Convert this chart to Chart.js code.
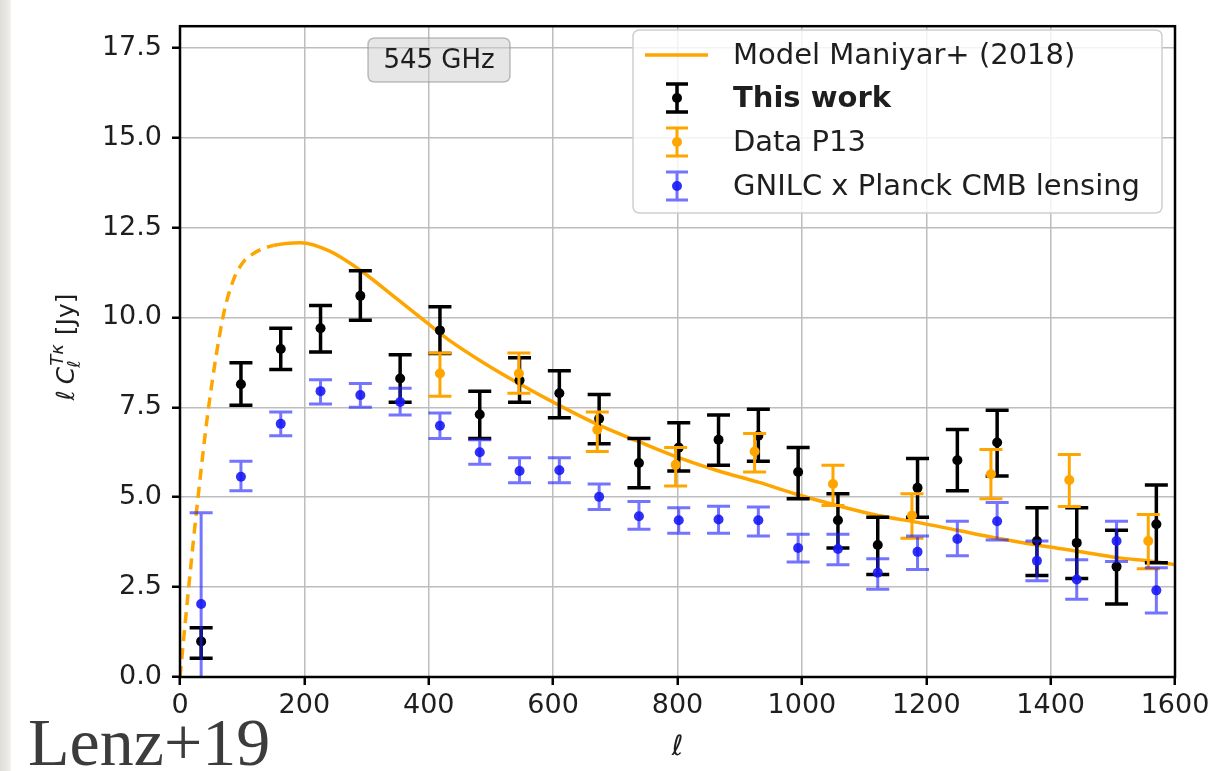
<!DOCTYPE html>
<html><head><meta charset="utf-8">
<script src="https://cdn.jsdelivr.net/npm/chart.js@4/dist/chart.umd.min.js"></script>
<style>
html,body{margin:0;padding:0;background:#fff;width:1226px;height:771px;overflow:hidden;}
#strip{position:absolute;left:0;top:0;width:11px;height:771px;background:linear-gradient(90deg,#e0ded9,#ebe9e5 70%,#f5f4f1);}
#wrap{position:absolute;left:0;top:0;width:1226px;height:771px;}
#tag{position:absolute;left:28px;top:706px;font-family:'Liberation Serif','DejaVu Serif',serif;font-size:68px;line-height:72px;color:#3c3c3c;white-space:nowrap;}
</style></head>
<body>
<div id="strip"></div>
<div id="wrap"><canvas id="c" width="1226" height="771"></canvas></div>
<div id="tag">Lenz+19</div>
<script>
// ---- data ----
const ellBins = [34,98,162,226,290,354,418,482,546,610,674,738,802,866,930,994,1058,1122,1186,1250,1314,1378,1442,1506,1570];

const thisWork   = [0.99,8.14,9.12,9.70,10.6,8.30,9.64,7.30,8.25,7.89,7.18,5.95,6.38,6.60,6.71,5.70,4.36,3.67,5.26,6.03,6.52,3.78,3.73,3.07,4.25];
const thisWorkLo = [0.52,7.56,8.55,9.04,9.92,7.64,9.00,6.63,7.64,7.21,6.49,5.26,5.73,5.89,6.00,4.96,3.59,2.85,4.44,5.18,5.59,2.82,2.74,2.03,3.18];
const thisWorkHi = [1.37,8.74,9.70,10.33,11.3,8.96,10.3,7.95,8.88,8.52,7.86,6.63,7.07,7.29,7.45,6.38,5.10,4.44,6.08,6.88,7.42,4.71,4.71,4.08,5.34];

const gnilc   = [2.03,5.57,7.04,7.95,7.84,7.65,6.99,6.25,5.73,5.75,5.01,4.47,4.36,4.38,4.36,3.59,3.56,2.90,3.48,3.84,4.33,3.23,2.71,3.78,2.41];
const gnilcLo = [-0.5,5.18,6.71,7.59,7.50,7.29,6.63,5.92,5.40,5.40,4.66,4.11,4.00,4.00,3.92,3.20,3.12,2.44,2.99,3.37,3.81,2.68,2.16,3.21,1.78];
const gnilcHi = [4.57,6.00,7.37,8.27,8.16,8.03,7.34,6.60,6.10,6.10,5.37,4.88,4.71,4.75,4.73,3.97,3.97,3.29,3.92,4.33,4.85,3.78,3.26,4.33,3.04];

const p13Ell = [418,545,671,797,924,1050,1177,1304,1430,1557];
const p13    = [8.44,8.44,6.88,5.90,6.27,5.37,4.49,5.64,5.48,3.78];
const p13Lo  = [7.81,7.89,6.27,5.31,5.70,4.77,3.86,4.96,4.74,3.01];
const p13Hi  = [9.01,9.01,7.37,6.38,6.77,5.89,5.10,6.33,6.19,4.52];

const modelEll = [0,14,29,46,69,85,100,120,150,194,240,291,350,398,435,488,545,609,673,737,802,866,930,994,1057,1123,1186,1250,1314,1378,1443,1507,1571,1600];
const modelVal = [0,2.5,5.0,7.5,10.0,11.0,11.5,11.8,12.0,12.08,11.85,11.3,10.5,9.84,9.34,8.74,8.16,7.56,7.01,6.55,6.10,5.73,5.42,5.07,4.77,4.49,4.30,4.08,3.86,3.67,3.50,3.32,3.20,3.12];
const modelDashedBelow = 150;

const xTicks = [0,200,400,600,800,1000,1200,1400,1600];
const yTicks = [0,2.5,5,7.5,10,12.5,15,17.5];

const seriesNames = ['Model Maniyar+ (2018)','This work','Data P13','GNILC x Planck CMB lensing'];
const bandLabel = '545 GHz';

// ---- colours ----
const ORANGE = '#ffa500';
const BLUE_BAR = 'rgba(30,30,255,0.62)';
const BLUE_DOT = 'rgba(25,25,245,0.9)';
const TXT = '#1e1e1e';
const FONT = "'DejaVu Sans', sans-serif";

const pts = (xs, ys) => xs.map((v, i) => ({x: v, y: ys[i]}));

const errorBars = {
  id: 'errorBars',
  beforeDatasetDraw(chart, args) {
    const ds = chart.data.datasets[args.index];
    if (!ds.errLo) return;
    const {ctx, chartArea: a, scales: {x, y}} = chart;
    ctx.save();
    ctx.beginPath(); ctx.rect(a.left, a.top, a.right - a.left, a.bottom - a.top); ctx.clip();
    ctx.strokeStyle = ds.errColor; ctx.lineWidth = ds.errWidth; ctx.lineCap = 'butt';
    const cap = 11.5;
    ctx.beginPath();
    ds.data.forEach((p, i) => {
      const px = x.getPixelForValue(p.x);
      const yl = y.getPixelForValue(ds.errLo[i]);
      const yh = y.getPixelForValue(ds.errHi[i]);
      ctx.moveTo(px, yl); ctx.lineTo(px, yh);
      ctx.moveTo(px - cap, yl); ctx.lineTo(px + cap, yl);
      ctx.moveTo(px - cap, yh); ctx.lineTo(px + cap, yh);
    });
    ctx.stroke();
    ctx.restore();
  }
};

function drawHandleErr(ctx, cx, cy, bar, dot, w) {
  ctx.save();
  ctx.strokeStyle = bar; ctx.lineWidth = w;
  ctx.beginPath();
  ctx.moveTo(cx, cy - 14); ctx.lineTo(cx, cy + 14);
  ctx.moveTo(cx - 11, cy - 14); ctx.lineTo(cx + 11, cy - 14);
  ctx.moveTo(cx - 11, cy + 14); ctx.lineTo(cx + 11, cy + 14);
  ctx.stroke();
  ctx.fillStyle = dot;
  ctx.beginPath(); ctx.arc(cx, cy, 5, 0, Math.PI * 2); ctx.fill();
  ctx.restore();
}

function roundRect(ctx, x, y, w, h, r) {
  ctx.beginPath();
  ctx.moveTo(x + r, y); ctx.lineTo(x + w - r, y); ctx.quadraticCurveTo(x + w, y, x + w, y + r);
  ctx.lineTo(x + w, y + h - r); ctx.quadraticCurveTo(x + w, y + h, x + w - r, y + h);
  ctx.lineTo(x + r, y + h); ctx.quadraticCurveTo(x, y + h, x, y + h - r);
  ctx.lineTo(x, y + r); ctx.quadraticCurveTo(x, y, x + r, y);
  ctx.closePath();
}

const decor = {
  id: 'decor',
  afterDatasetsDraw(chart) {
    const {ctx, chartArea: a} = chart;
    ctx.save();
    ctx.strokeStyle = '#000'; ctx.lineWidth = 2.5;
    ctx.strokeRect(a.left, a.top, a.right - a.left, a.bottom - a.top);
    ctx.restore();
  },
  afterDraw(chart) {
    const {ctx} = chart;
    // band annotation
    ctx.save();
    roundRect(ctx, 368, 38, 142, 44, 7);
    ctx.fillStyle = 'rgba(205,205,205,0.5)'; ctx.fill();
    ctx.strokeStyle = 'rgba(140,140,140,0.55)'; ctx.lineWidth = 1.5; ctx.stroke();
    ctx.fillStyle = TXT; ctx.font = `26px ${FONT}`; ctx.textAlign = 'center'; ctx.textBaseline = 'middle';
    ctx.fillText(bandLabel, 439, 61);
    ctx.restore();

    // legend
    ctx.save();
    roundRect(ctx, 633, 30, 529, 183, 7);
    ctx.fillStyle = 'rgba(255,255,255,0.82)'; ctx.fill();
    ctx.strokeStyle = '#cfcfcf'; ctx.lineWidth = 1.5; ctx.stroke();
    const rows = [55, 98, 142, 186];
    ctx.strokeStyle = ORANGE; ctx.lineWidth = 3.5;
    ctx.beginPath(); ctx.moveTo(645, rows[0]); ctx.lineTo(708, rows[0]); ctx.stroke();
    drawHandleErr(ctx, 677, rows[1], '#000', '#000', 3.5);
    drawHandleErr(ctx, 677, rows[2], ORANGE, ORANGE, 3);
    drawHandleErr(ctx, 677, rows[3], BLUE_BAR, BLUE_DOT, 3);
    ctx.fillStyle = TXT; ctx.textAlign = 'left'; ctx.textBaseline = 'middle';
    seriesNames.forEach((s, i) => {
      ctx.font = (i === 1 ? 'bold ' : '') + `29px ${FONT}`;
      ctx.fillText(s, 733, rows[i] + 1);
    });
    ctx.restore();

    // y-axis title:  ℓ C_ℓ^{Tκ} [Jy]
    ctx.save();
    ctx.translate(66, 347);
    ctx.rotate(-Math.PI / 2);
    ctx.fillStyle = TXT; ctx.textBaseline = 'alphabetic'; ctx.textAlign = 'left';
    const big = `italic 25px ${FONT}`, small = `italic 18px ${FONT}`, reg = `25px ${FONT}`;
    ctx.font = big; const wl = ctx.measureText('ℓ').width, wc = ctx.measureText('C').width;
    ctx.font = small; const wsup = ctx.measureText('Tκ').width, wsub = ctx.measureText('ℓ').width;
    ctx.font = reg; const wj = ctx.measureText('[Jy]').width;
    const total = wl + 6 + wc + 1 + Math.max(wsup, wsub) + 9 + wj;
    let cx = -total / 2;
    const base = 8;
    ctx.font = big; ctx.fillText('ℓ', cx, base); cx += wl + 6;
    ctx.fillText('C', cx, base); cx += wc + 1;
    ctx.font = small; ctx.fillText('Tκ', cx, base - 11); ctx.fillText('ℓ', cx - 2, base + 6);
    cx += Math.max(wsup, wsub) + 9;
    ctx.font = reg; ctx.fillText('[Jy]', cx, base);
    ctx.restore();

    // x-axis title
    ctx.save();
    ctx.fillStyle = TXT; ctx.font = `italic 28px ${FONT}`; ctx.textAlign = 'center'; ctx.textBaseline = 'alphabetic';
    const xs = chart.scales.x;
    ctx.fillText('ℓ', (xs.left + xs.right) / 2, 755);
    ctx.restore();
  }
};

const gridOpts = {color: '#bdbdbd', lineWidth: 1.5, tickColor: '#000', tickWidth: 2.5, tickLength: 8, drawTicks: true};

new Chart(document.getElementById('c'), {
  type: 'scatter',
  data: {
    datasets: [
      {label: seriesNames[0], data: pts(modelEll, modelVal), showLine: true, borderColor: ORANGE, borderWidth: 3.5,
       pointRadius: 0, cubicInterpolationMode: 'monotone', fill: false, order: 4,
       segment: {borderDash: c => c.p1.parsed.x <= modelDashedBelow ? [11, 7] : undefined}},
      {label: seriesNames[1], data: pts(ellBins, thisWork), errLo: thisWorkLo, errHi: thisWorkHi, errColor: '#000', errWidth: 3.5,
       pointRadius: 5, pointBackgroundColor: '#000', pointBorderWidth: 0, order: 3},
      {label: seriesNames[2], data: pts(p13Ell, p13), errLo: p13Lo, errHi: p13Hi, errColor: ORANGE, errWidth: 3,
       pointRadius: 5, pointBackgroundColor: ORANGE, pointBorderWidth: 0, order: 2},
      {label: seriesNames[3], data: pts(ellBins, gnilc), errLo: gnilcLo, errHi: gnilcHi, errColor: BLUE_BAR, errWidth: 3,
       pointRadius: 5, pointBackgroundColor: BLUE_DOT, pointBorderWidth: 0, order: 1}
    ]
  },
  options: {
    responsive: false, animation: false, events: [],
    layout: {padding: {left: 0, right: 51, top: 15, bottom: 0}},
    plugins: {legend: {display: false}, tooltip: {enabled: false}},
    scales: {
      x: {type: 'linear', min: 0, max: 1600,
          afterFit: s => { s.height = 94; },
          afterBuildTicks: s => { s.ticks = xTicks.map(v => ({value: v})); },
          ticks: {font: {family: FONT, size: 27}, color: TXT, padding: 5, maxRotation: 0, callback: v => String(v)},
          grid: gridOpts, border: {display: false}},
      y: {type: 'linear', min: 0, max: 18.1,
          afterFit: s => { s.width = 180; },
          afterBuildTicks: s => { s.ticks = yTicks.map(v => ({value: v})); },
          ticks: {font: {family: FONT, size: 27}, color: TXT, padding: 10, callback: v => Number(v).toFixed(1)},
          grid: gridOpts, border: {display: false}}
    }
  },
  plugins: [errorBars, decor]
});
</script>
</body></html>
